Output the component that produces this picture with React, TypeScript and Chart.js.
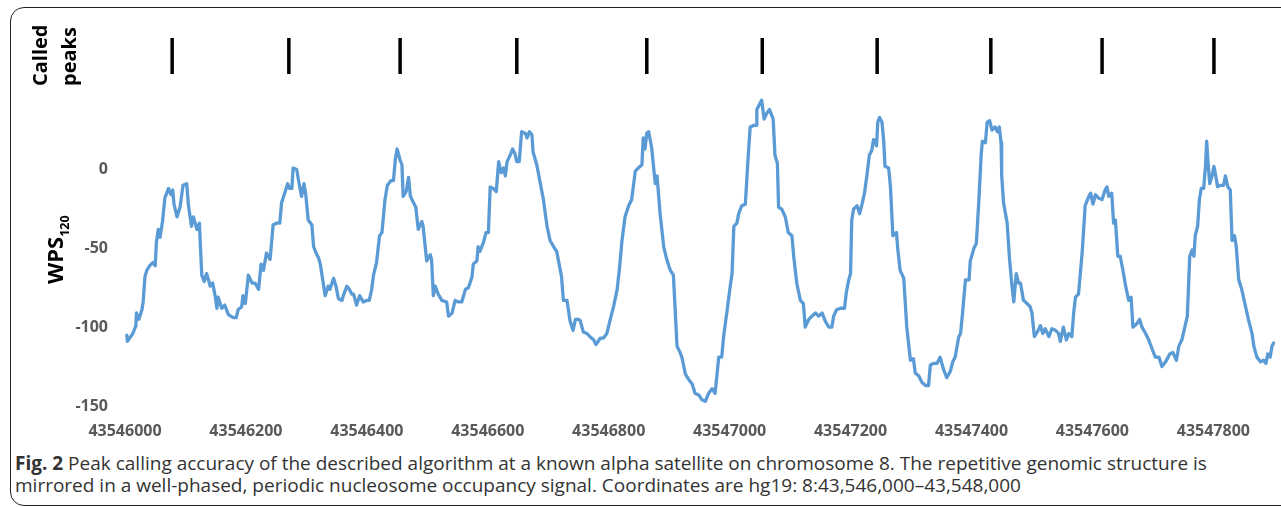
import React, { useEffect, useRef } from "react";
import { Chart, registerables } from "chart.js";

Chart.register(...registerables);

// Genomic window (hg19 chr8)
const START = 43546000;
const END = 43547902;

// WPS120 signal: position offsets from START (bp) and window protection score values
const positionOffsets = [
  3, 4, 13, 18, 19, 23, 28, 30, 33, 36, 41, 46, 50, 52, 55, 58, 62, 66, 72, 76, 79, 81, 86, 91, 96, 102, 105, 110, 113, 119,
  123, 127, 131, 135, 141, 145, 149, 152, 154, 160, 165, 171, 179, 184, 187, 193, 195, 199, 204, 210, 215, 221, 225, 229, 234,
  240, 245, 251, 256, 259, 265, 269, 272, 276, 278, 284, 288, 292, 296, 299, 303, 309, 312, 316, 320, 323, 327, 331, 336, 339,
  345, 349, 353, 359, 361, 367, 371, 375, 378, 383, 388, 394, 400, 404, 408, 411, 416, 421, 425, 430, 434, 440, 444, 447, 450,
  455, 458, 460, 465, 469, 472, 477, 481, 485, 491, 493, 499, 505, 507, 510, 513, 518, 524, 532, 535, 541, 546, 551, 557, 563,
  568, 574, 576, 582, 584, 587, 593, 597, 601, 604, 609, 614, 618, 622, 626, 629, 632, 637, 641, 645, 648, 652, 656, 662, 665,
  669, 673, 675, 681, 687, 692, 698, 703, 709, 714, 720, 722, 725, 731, 736, 741, 745, 750, 753, 758, 764, 769, 775, 779, 786,
  791, 797, 802, 808, 814, 818, 822, 827, 833, 838, 844, 849, 855, 857, 860, 863, 866, 871, 877, 880, 885, 891, 896, 902, 907,
  913, 918, 921, 927, 932, 938, 943, 949, 954, 960, 965, 971, 976, 982, 987, 990, 996, 1001, 1004, 1007, 1012, 1015, 1020, 1026,
  1030, 1034, 1040, 1044, 1045, 1049, 1053, 1057, 1062, 1066, 1070, 1072, 1075, 1079, 1081, 1086, 1092, 1097, 1103, 1106, 1111,
  1117, 1122, 1125, 1131, 1136, 1142, 1147, 1153, 1158, 1164, 1169, 1172, 1177, 1183, 1190, 1193, 1197, 1200, 1202, 1205, 1211,
  1215, 1219, 1223, 1227, 1231, 1235, 1238, 1243, 1245, 1248, 1252, 1255, 1257, 1263, 1266, 1270, 1276, 1278, 1282, 1288, 1293,
  1299, 1304, 1307, 1313, 1318, 1324, 1329, 1332, 1337, 1343, 1348, 1354, 1359, 1365, 1369, 1373, 1379, 1382, 1385, 1390, 1396,
  1398, 1404, 1408, 1412, 1416, 1418, 1423, 1426, 1430, 1434, 1439, 1443, 1446, 1449, 1450, 1453, 1459, 1463, 1467, 1470, 1474,
  1478, 1481, 1486, 1492, 1497, 1500, 1504, 1509, 1514, 1518, 1522, 1528, 1533, 1539, 1544, 1547, 1552, 1557, 1561, 1566, 1569,
  1572, 1577, 1583, 1588, 1594, 1597, 1601, 1605, 1610, 1616, 1621, 1624, 1627, 1632, 1635, 1638, 1642, 1646, 1651, 1655, 1660,
  1664, 1667, 1673, 1678, 1682, 1688, 1693, 1699, 1704, 1710, 1715, 1721, 1728, 1733, 1739, 1743, 1748, 1754, 1757, 1761, 1765,
  1768, 1770, 1774, 1777, 1780, 1784, 1787, 1789, 1791, 1794, 1798, 1801, 1804, 1807, 1812, 1817, 1820, 1824, 1828, 1831, 1835,
  1838, 1842, 1847, 1851, 1858, 1864, 1867, 1872, 1878, 1883, 1887, 1890, 1894, 1897, 1900,
];

const wps = [
  -105, -109, -104, -99, -91, -95, -89, -84, -68, -64, -61, -59, -61, -46, -38, -43, -33, -18, -12, -16, -13, -22, -30, -24, -10, -9, -23, -36, -30, -38,
  -34, -67, -71, -66, -74, -72, -80, -88, -81, -88, -86, -92, -94, -94, -89, -87, -80, -85, -67, -72, -72, -76, -60, -64, -53,
  -57, -35, -34, -34, -21, -14, -9, -12, -12, 1, 0, -9, -17, -9, -16, -32, -35, -49, -53, -56, -60, -70, -80, -74, -76,
  -69, -74, -82, -83, -80, -74, -76, -79, -79, -86, -80, -84, -83, -83, -76, -67, -59, -42, -40, -19, -10, -7, -7, 6, 13,
  6, 3, -17, -14, -5, -17, -21, -24, -38, -33, -36, -58, -54, -57, -80, -74, -79, -83, -84, -93, -91, -83, -84, -84, -76,
  -75, -68, -60, -58, -49, -52, -46, -40, -40, -11, -12, -14, 5, -2, 1, -4, 5, 9, 13, 10, 5, 5, 24, 23, 20,
  24, 22, 11, 3, -9, -19, -36, -45, -49, -52, -64, -68, -83, -83, -96, -102, -95, -95, -96, -103, -104, -106, -108, -111, -107,
  -107, -104, -96, -87, -76, -62, -45, -30, -23, -19, -1, 1, 3, 20, 13, 23, 24, 14, -9, -4, -28, -49, -57, -64, -67,
  -112, -116, -119, -130, -133, -136, -142, -143, -146, -147, -142, -139, -142, -119, -119, -106, -89, -74, -66, -36, -34, -28, -23, -22,
  4, 27, 28, 28, 38, 41, 44, 32, 36, 38, 34, 32, 9, 4, -24, -25, -30, -40, -42, -55, -72,
  -83, -85, -100, -95, -93, -91, -93, -91, -96, -100, -100, -93, -89, -88, -88, -78, -70, -66, -32, -25, -23,
  -28, -22, -15, -4, 9, 12, 19, 15, 30, 33, 30, 17, 2, 1, -11, -42, -40, -50, -64, -69, -100,
  -121, -120, -129, -131, -135, -137, -137, -124, -123, -123, -119, -127, -132, -128, -122, -119, -106, -104, -92, -70, -70,
  -58, -50, -47, -21, 9, 18, 17, 30, 31, 25, 27, 24, 27, 17, -4, -21, -34, -57, -74, -84, -66,
  -72, -72, -83, -85, -87, -91, -106, -103, -99, -104, -101, -106, -101, -102, -104, -109, -100, -108, -104, -106, -91,
  -81, -79, -53, -23, -17, -15, -22, -16, -18, -19, -13, -11, -17, -15, -34, -32, -55, -55, -65, -74, -83,
  -81, -100, -98, -95, -100, -104, -108, -114, -119, -119, -125, -122, -117, -116, -121, -112, -108, -98, -93, -55, -51,
  -55, -42, -36, -19, -12, -12, 2, 18, 6, -9, -4, 2, -4, -11, -10, -10, -4, -11, -13, -45, -42,
  -49, -70, -76, -83, -95, -104, -112, -119, -122, -121, -123, -117, -119, -112, -110,
];

// Called nucleosome peak positions
const calledPeaks = [
  43546078, 43546271, 43546455, 43546648, 43546863, 43547054, 43547244, 43547432, 43547616, 43547801,
];

const xTickValues = [
  43546000, 43546200, 43546400, 43546600, 43546800, 43547000, 43547200, 43547400, 43547600, 43547800,
];
const yTickValues = [0, -50, -100, -150];
const Y_MIN = -150;
const Y_MAX = 72;

const tickFont = { family: "'Open Sans', 'DejaVu Sans', sans-serif", size: 16, weight: "bold" as const };

export default function App() {
  const ref = useRef<HTMLCanvasElement>(null);

  useEffect(() => {
    const canvas = ref.current;
    if (!canvas) return;
    const chart = new Chart(canvas, {
      type: "line",
      data: {
        datasets: [
          {
            type: "line",
            label: "WPS120",
            data: positionOffsets.map((o, i) => ({ x: START + o, y: wps[i] })),
            borderColor: "#5B9BD5",
            borderWidth: 3.3,
            pointRadius: 0,
            tension: 0,
            borderJoinStyle: "round",
            borderCapStyle: "round",
            xAxisID: "x",
            yAxisID: "y",
          },
          {
            type: "scatter",
            label: "Called peaks",
            data: calledPeaks.map((p) => ({ x: p, y: 1 })),
            xAxisID: "x",
            yAxisID: "yPeaks",
            pointStyle: "line",
            rotation: 90,
            pointRadius: 18,
            borderColor: "#000",
            backgroundColor: "#000",
            pointBorderWidth: 3.5,
            clip: false,
          } as any,
        ],
      },
      options: {
        animation: false,
        responsive: false,
        devicePixelRatio: 1,
        events: [],
        layout: { autoPadding: false, padding: { left: 0, right: 6, top: 56, bottom: 0 } },
        plugins: { legend: { display: false }, tooltip: { enabled: false } },
        scales: {
          x: {
            type: "linear",
            min: START,
            max: END,
            grid: { display: false, drawTicks: false },
            border: { display: false },
            ticks: {
              font: tickFont,
              color: "#595959",
              padding: 16,
              maxRotation: 0,
              autoSkip: false,
              callback: (v: any) => String(v),
            },
            afterBuildTicks: (scale: any) => {
              scale.ticks = xTickValues.map((value) => ({ value }));
            },
            afterFit: (scale: any) => {
              scale.height = 44;
            },
          },
          y: {
            type: "linear",
            min: Y_MIN,
            max: Y_MAX,
            grid: { display: false, drawTicks: false },
            border: { display: false },
            ticks: {
              font: tickFont,
              color: "#595959",
              padding: 17,
              callback: (v: any) => String(v),
            },
            afterBuildTicks: (scale: any) => {
              scale.ticks = yTickValues.map((value) => ({ value }));
            },
            afterFit: (scale: any) => {
              scale.width = 125;
            },
          },
          yPeaks: {
            type: "linear",
            display: false,
            min: 0,
            max: 1,
          },
        },
      },
    } as any);
    return () => chart.destroy();
  }, []);

  const rotated: React.CSSProperties = {
    position: "absolute",
    transformOrigin: "0 0",
    transform: "rotate(-90deg)",
    fontFamily: "'Open Sans', 'DejaVu Sans', sans-serif",
    fontWeight: 700,
    whiteSpace: "nowrap",
    color: "#000",
  };

  return (
    <div
      style={{
        position: "absolute",
        left: 0,
        top: 0,
        width: 1281,
        height: 507,
        overflow: "hidden",
        background: "#fff",
      }}
    >
      <div
        style={{
          position: "absolute",
          left: 10,
          top: 7,
          width: 1300,
          height: 499,
          border: "1.5px solid #222",
          borderRadius: 14,
          boxSizing: "border-box",
        }}
      />
      <canvas
        ref={ref}
        width={1281}
        height={450}
        style={{ position: "absolute", left: 0, top: 0, width: 1281, height: 450 }}
      />
      <div style={{ ...rotated, left: 24.7, top: 86, fontSize: 20, lineHeight: "29px" }}>
        Called
        <br />
        peaks
      </div>
      <div style={{ ...rotated, left: 38.5, top: 284, fontSize: 22, lineHeight: "30px" }}>
        WPS
        <span style={{ fontSize: 12.5, verticalAlign: "-6px", lineHeight: 1 }}>120</span>
      </div>
      <div
        style={{
          position: "absolute",
          left: 15,
          top: 452,
          fontFamily: "'Open Sans', 'DejaVu Sans', sans-serif",
          fontSize: 19,
          lineHeight: "22px",
          color: "#333",
          whiteSpace: "nowrap",
        }}
      >
        <b>Fig. 2</b> Peak calling accuracy of the described algorithm at a known alpha satellite on chromosome 8. The
        repetitive genomic structure is
        <br />
        mirrored in a well-phased, periodic nucleosome occupancy signal. Coordinates are hg19: 8:43,546,000–43,548,000
      </div>
    </div>
  );
}
